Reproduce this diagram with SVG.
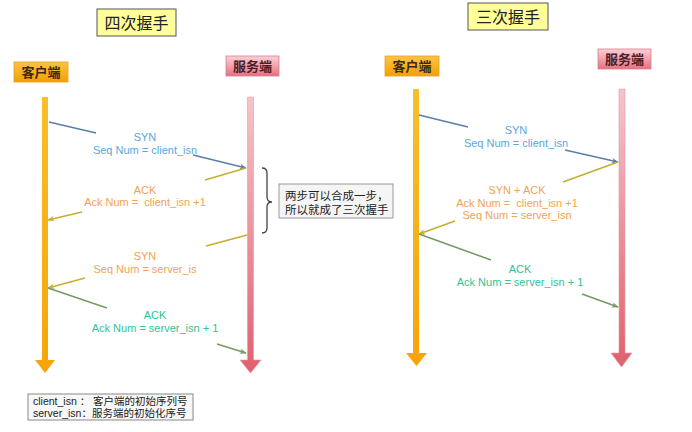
<svg xmlns="http://www.w3.org/2000/svg" width="692" height="432" viewBox="0 0 692 432">
<defs>
<style>
.title{fill:#ffff99;stroke:#555;stroke-width:1}
.ttext{font-family:"Noto Sans CJK SC",sans-serif;font-size:16px;fill:#222;text-anchor:middle}
.atext{font-family:"Noto Sans CJK SC",sans-serif;font-size:13px;font-weight:bold;fill:#3a2a18;text-anchor:middle}
.lbl{font-family:"Liberation Sans",Arial,sans-serif;font-size:11px;text-anchor:middle}
.blue{fill:#5aa6dc}
.orange{fill:#f0a452}
.green{fill:#2fc496}
.msg{fill:none;stroke-width:1.6}
.note{font-family:"Liberation Sans","Noto Sans CJK SC",sans-serif;font-size:11.5px;fill:#222}
.leg{font-family:"Liberation Sans","Noto Sans CJK SC",sans-serif;font-size:10.5px;fill:#222}
</style>
<linearGradient id="gc" x1="0" y1="0" x2="0" y2="1"><stop offset="0" stop-color="#fcc24a"/><stop offset="1" stop-color="#f4a000"/></linearGradient>
<linearGradient id="gs" x1="0" y1="0" x2="0" y2="1"><stop offset="0" stop-color="#fbd0d6"/><stop offset="1" stop-color="#e77080"/></linearGradient>
<linearGradient id="lc" x1="0" y1="0" x2="0" y2="1"><stop offset="0" stop-color="#f7bf2a"/><stop offset="1" stop-color="#f5a50a"/></linearGradient>
<linearGradient id="ls" x1="0" y1="0" x2="0" y2="1"><stop offset="0" stop-color="#f6c4cb"/><stop offset="1" stop-color="#e0606e"/></linearGradient>
<marker id="ab" viewBox="0 0 10 10" refX="9" refY="5" markerWidth="7" markerHeight="7" orient="auto" markerUnits="userSpaceOnUse"><path d="M0,1 L10,5 L0,9 L3,5 Z" fill="#5a7fa8"/></marker>
<marker id="ay" viewBox="0 0 10 10" refX="9" refY="5" markerWidth="7" markerHeight="7" orient="auto" markerUnits="userSpaceOnUse"><path d="M0,1 L10,5 L0,9 L3,5 Z" fill="#c4b02c"/></marker>
<marker id="ag" viewBox="0 0 10 10" refX="9" refY="5" markerWidth="7" markerHeight="7" orient="auto" markerUnits="userSpaceOnUse"><path d="M0,1 L10,5 L0,9 L3,5 Z" fill="#769a66"/></marker>
</defs>
<rect width="692" height="432" fill="#fff"/>

<!-- Left diagram -->
<g id="title4">
<rect class="title" x="97" y="9" width="79" height="27"/>
<text class="ttext" x="136.5" y="28.5">四次握手</text>
</g>
<g id="client4">
<rect x="14" y="62" width="54" height="20" fill="url(#gc)" stroke="#e8a020" stroke-width="0.8"/>
<text class="atext" x="41" y="77">客户端</text>
</g>
<g id="server4">
<rect x="226" y="56" width="53" height="20" fill="url(#gs)" stroke="#d88090" stroke-width="0.8"/>
<text class="atext" x="252.5" y="71" style="fill:#4a2026">服务端</text>
</g>
<g id="client4-line">
<path d="M42,97 H48 V360 H55 L45,373 L35,360 H42 Z" fill="url(#lc)"/>
</g>
<g id="server4-line">
<path d="M247.5,97 H253.5 V360 H261 L250.5,373 L240,360 H247.5 Z" fill="url(#ls)" stroke="#e39aa4" stroke-width="0.6"/>
</g>
<g id="note">
<path d="M262,168 Q267,168 267,173 V197 Q267,202 272,202 Q267,202 267,207 V228 Q267,233 262,233" fill="none" stroke="#444" stroke-width="1.3"/>
<rect x="279" y="184" width="114" height="34" fill="#f5f5f5" stroke="#999" stroke-width="1"/>
<text class="note" x="285" y="200">两步可以合成一步，</text>
<text class="note" x="285" y="214">所以就成了三次握手</text>
</g>
<g id="legend">
<rect x="28" y="394" width="165" height="26" fill="#f8f8f8" stroke="#888" stroke-width="1"/>
<text class="leg" x="33" y="405">client_isn ： 客户端的初始序列号</text>
<text class="leg" x="33" y="417">server_isn：服务端的初始化序号</text>
</g>

<!-- Right diagram -->
<g id="title3">
<rect class="title" x="468" y="3" width="80" height="27"/>
<text class="ttext" x="508" y="22.5">三次握手</text>
</g>
<g id="client3">
<rect x="385" y="56" width="54" height="20" fill="url(#gc)" stroke="#e8a020" stroke-width="0.8"/>
<text class="atext" x="412" y="71">客户端</text>
</g>
<g id="server3">
<rect x="598" y="49" width="53" height="20" fill="url(#gs)" stroke="#d88090" stroke-width="0.8"/>
<text class="atext" x="624.5" y="64" style="fill:#4a2026">服务端</text>
</g>
<g id="client3-line">
<path d="M413,89 H419 V353 H427 L416.5,366 L406,353 H413 Z" fill="url(#lc)"/>
</g>
<g id="server3-line">
<path d="M619,89 H625 V353 H632 L621.5,367 L611,353 H619 Z" fill="url(#ls)" stroke="#e39aa4" stroke-width="0.6"/>
</g>

<!-- Connectors -->
<g id="connectors">
<path class="msg" d="M49,122 L96,133 M193,155 L246,168" stroke="#5a7fa8" marker-end="url(#ab)"/>
<path class="msg" d="M246,168 L205,180 M82,212 L48,220" stroke="#c4b02c" marker-end="url(#ay)"/>
<path class="msg" d="M247,235 L206,246 M85,278 L48,288" stroke="#c4b02c" marker-end="url(#ay)"/>
<path class="msg" d="M48,288 L107,308 M217,344 L246,353" stroke="#769a66" marker-end="url(#ag)"/>

<path class="msg" d="M419,115 L468,127 M565,150 L618,162" stroke="#5a7fa8" marker-end="url(#ab)"/>
<path class="msg" d="M618,162 L563,182 M455,221 L419,234" stroke="#c4b02c" marker-end="url(#ay)"/>
<path class="msg" d="M419,234 L491,260 M582,294 L618,307" stroke="#769a66" marker-end="url(#ag)"/>
</g>

<!-- Labels -->
<g id="labels">
<text class="lbl blue" x="145" y="141">SYN</text>
<text class="lbl blue" x="145" y="154">Seq Num = client_isn</text>
<text class="lbl orange" x="145" y="194">ACK</text>
<text class="lbl orange" x="145" y="206">Ack Num = &#160;client_isn +1</text>
<text class="lbl orange" x="145" y="260">SYN</text>
<text class="lbl orange" x="145" y="273">Seq Num = server_is</text>
<text class="lbl green" x="155" y="319">ACK</text>
<text class="lbl green" x="155" y="332">Ack Num = server_isn + 1</text>

<text class="lbl blue" x="516" y="134">SYN</text>
<text class="lbl blue" x="516" y="147">Seq Num = client_isn</text>
<text class="lbl orange" x="517" y="194">SYN + ACK</text>
<text class="lbl orange" x="517" y="207">Ack Num = &#160;client_isn +1</text>
<text class="lbl orange" x="517" y="219">Seq Num = server_isn</text>
<text class="lbl green" x="520" y="273">ACK</text>
<text class="lbl green" x="520" y="286">Ack Num = server_isn + 1</text>
</g>
</svg>
